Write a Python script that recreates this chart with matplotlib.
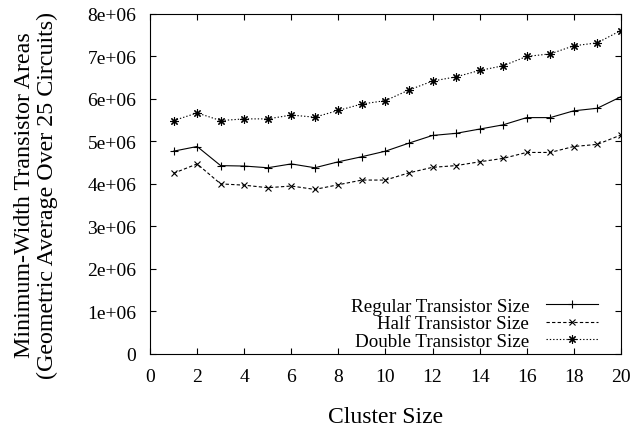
import numpy as np
import matplotlib.pyplot as plt
from matplotlib.ticker import FuncFormatter

plt.rcParams['font.family'] = ['Liberation Serif', 'DejaVu Serif']

cluster_size = list(range(1, 21))
regular = [4.77, 4.88, 4.43, 4.42, 4.38, 4.47, 4.38, 4.52, 4.64, 4.77,
           4.96, 5.14, 5.19, 5.29, 5.39, 5.56, 5.56, 5.72, 5.78, 6.05]
half = [4.25, 4.47, 4.00, 3.97, 3.91, 3.95, 3.87, 3.98, 4.09, 4.09,
        4.26, 4.39, 4.43, 4.52, 4.60, 4.74, 4.74, 4.88, 4.93, 5.15]
double = [5.49, 5.67, 5.49, 5.53, 5.53, 5.62, 5.57, 5.73, 5.88, 5.96,
          6.21, 6.42, 6.52, 6.67, 6.78, 7.00, 7.06, 7.25, 7.32, 7.61]

scale = 1e6
regular = np.array(regular) * scale
half = np.array(half) * scale
double = np.array(double) * scale

fig = plt.figure(figsize=(6.44, 4.27), dpi=100)
ax = fig.add_axes([0.233, 0.169, 0.731, 0.796])

lw = 0.8
ax.plot(cluster_size, regular, color='black', lw=lw, linestyle='-',
        marker='+', markersize=6, mew=0.8, label='Regular Transistor Size')
ax.plot(cluster_size, half, color='black', lw=lw, linestyle=(0, (3, 2)),
        marker='x', markersize=5, mew=0.8, label='Half Transistor Size')
ax.plot(cluster_size, double, color='black', lw=lw, linestyle=(0, (1.2, 1.8)),
        marker=(8, 2, 0), markersize=6, mew=0.8, label='Double Transistor Size')

ax.set_xlim(0, 20)
ax.set_ylim(0, 8e6)
ax.set_xticks(range(0, 21, 2))
ax.set_yticks(np.arange(0, 8.1e6, 1e6))
ax.yaxis.set_major_formatter(FuncFormatter(lambda v, p: '%g' % v))
ax.tick_params(direction='in', top=True, right=True, length=4,
               width=0.8, labelsize=14)
ax.tick_params(axis='x', pad=10)
ax.tick_params(axis='y', pad=10)
for s in ax.spines.values():
    s.set_linewidth(0.8)

ax.set_xlabel('Cluster Size', fontsize=17)
ax.xaxis.set_label_coords(0.5, -0.153)
ax.set_ylabel('Minimum-Width Transistor Areas\n(Geometric Average Over 25 Circuits)',
              fontsize=17.3, linespacing=1.1)
ax.yaxis.set_label_coords(-0.195, 0.47)

ax.legend(loc='lower right', bbox_to_anchor=(0.951, 0.012), frameon=False,
          markerfirst=False, fontsize=13.7, handlelength=2.7,
          labelspacing=0.0, handletextpad=0.9, borderpad=0,
          borderaxespad=0)

fig.savefig('out.png', dpi=100)
